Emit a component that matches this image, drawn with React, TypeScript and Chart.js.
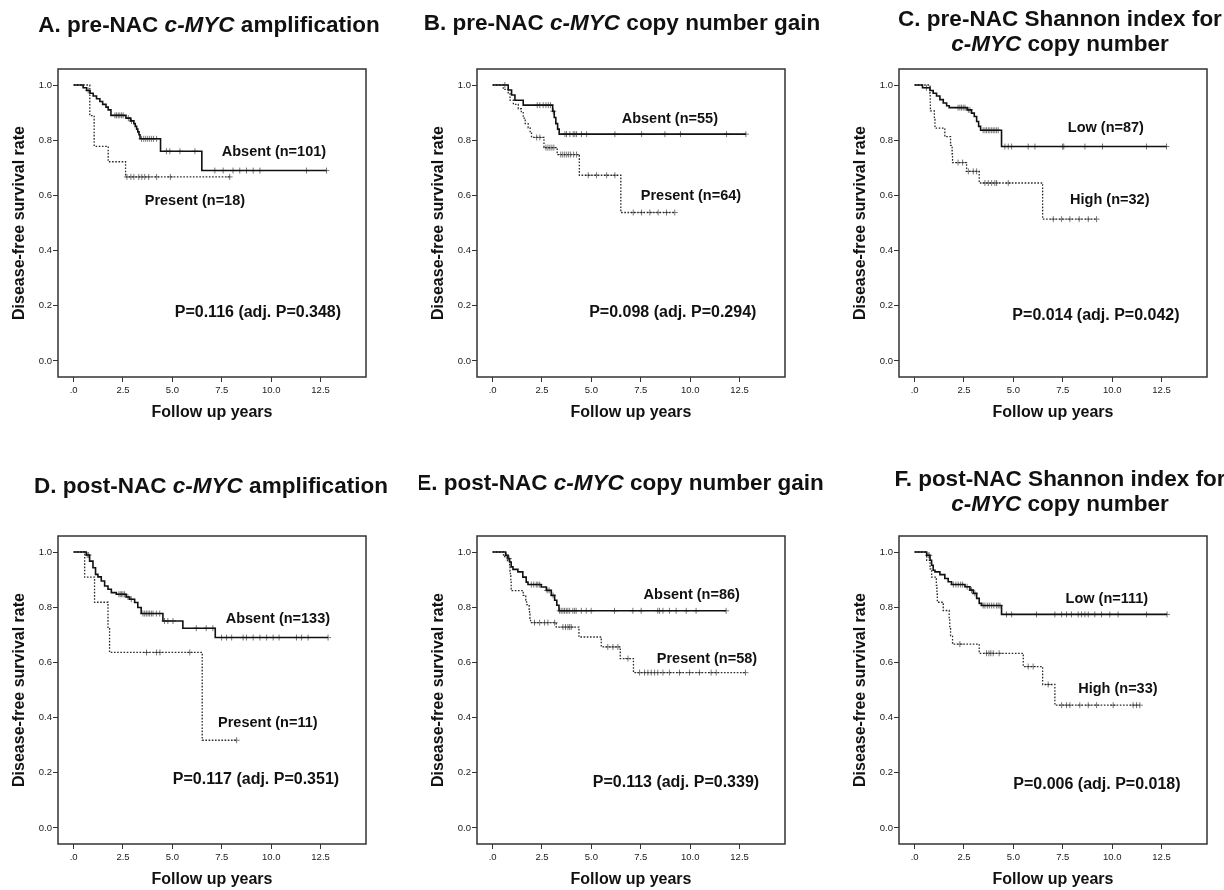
import React, { useEffect, useRef } from 'react';
import { Chart, registerables } from 'chart.js';

Chart.register(...registerables);

const FONT = '"Liberation Sans", Arial, Helvetica, sans-serif';

// axis ticks
const X_TICKS = [0, 2.5, 5, 7.5, 10, 12.5];
const X_TICK_LABELS = ['.0', '2.5', '5.0', '7.5', '10.0', '12.5'];
const Y_TICKS = [0, 0.2, 0.4, 0.6, 0.8, 1.0];
const Y_TICK_LABELS = ['0.0', '0.2', '0.4', '0.6', '0.8', '1.0'];

// ---- A. pre-NAC c-MYC amplification ----
const A_absT = [0.48, 0.66, 0.83, 0.99, 1.16, 1.33, 1.47, 1.64, 1.75, 1.89, 2.65, 2.88, 3.05, 3.12, 3.19, 3.25, 3.31, 3.36, 4.40, 6.49];
const A_absS = [0.99, 0.98, 0.97, 0.96, 0.95, 0.94, 0.93, 0.92, 0.91, 0.89, 0.88, 0.87, 0.86, 0.85, 0.84, 0.83, 0.82, 0.805, 0.76, 0.69];
const A_absC = [0.74, 2.09, 2.17, 2.26, 2.34, 2.43, 2.51, 2.77, 2.93, 3.44, 3.55, 3.65, 3.75, 3.85, 3.95, 4.05, 4.2, 4.7, 4.87, 5.38, 6.14, 7.15, 7.57, 8.07, 8.41, 8.75, 9.09, 9.43, 11.79, 12.8];
const A_preT = [0.82, 1.04, 1.75, 2.63];
const A_preS = [0.889, 0.778, 0.722, 0.667];
const A_preC = [2.7, 2.9, 3.05, 3.3, 3.45, 3.6, 3.8, 4.2, 4.9, 7.9];

// ---- B. pre-NAC c-MYC copy number gain ----
const B_absT = [0.79, 0.96, 1.13, 1.55, 3.04, 3.12, 3.20, 3.29, 3.37];
const B_absS = [0.982, 0.964, 0.945, 0.927, 0.905, 0.882, 0.86, 0.84, 0.822];
const B_absC = [0.62, 2.26, 2.39, 2.56, 2.70, 2.82, 2.93, 3.07, 3.66, 3.74, 3.91, 4.08, 4.16, 4.25, 4.50, 4.76, 6.19, 7.54, 8.72, 9.51, 11.84, 12.82];
const B_preT = [0.54, 0.79, 0.88, 1.05, 1.3, 1.45, 1.55, 1.65, 1.8, 1.9, 1.97, 2.6, 3.27, 4.39, 6.49];
const B_preS = [0.984, 0.969, 0.945, 0.93, 0.914, 0.9, 0.88, 0.86, 0.845, 0.828, 0.81, 0.773, 0.748, 0.673, 0.538];
const B_preC = [2.23, 2.39, 2.7, 2.8, 2.9, 3.0, 3.1, 3.45, 3.55, 3.65, 3.75, 3.85, 3.95, 4.1, 4.25, 4.84, 5.26, 5.77, 6.19, 7.12, 7.54, 7.96, 8.38, 8.80, 9.22];

// ---- C. pre-NAC Shannon index ----
const C_lowT = [0.40, 0.78, 0.94, 1.11, 1.28, 1.45, 1.62, 1.75, 2.66, 2.88, 3.02, 3.14, 3.24, 3.34, 4.40];
const C_lowS = [0.99, 0.98, 0.97, 0.96, 0.947, 0.935, 0.925, 0.918, 0.91, 0.898, 0.886, 0.868, 0.85, 0.836, 0.777];
const C_lowC = [0.6, 2.2, 2.29, 2.37, 2.46, 2.55, 2.72, 2.8, 3.47, 3.56, 3.64, 3.73, 3.81, 3.9, 3.98, 4.06, 4.15, 4.23, 4.57, 4.74, 4.91, 5.75, 6.09, 7.49, 7.55, 8.62, 9.51, 11.74, 12.75];
const C_highT = [0.78, 0.79, 0.80, 1.0, 1.03, 1.53, 1.82, 1.9, 1.92, 2.63, 3.27, 6.48];
const C_highS = [0.969, 0.938, 0.906, 0.875, 0.844, 0.813, 0.781, 0.75, 0.719, 0.687, 0.645, 0.514];
const C_highC = [2.2, 2.43, 2.72, 2.97, 3.14, 3.56, 3.73, 3.9, 4.06, 4.15, 4.74, 7.02, 7.44, 7.86, 8.33, 8.79, 9.21];

// ---- D. post-NAC c-MYC amplification ----
const D_absT = [0.64, 0.81, 0.98, 1.11, 1.23, 1.40, 1.57, 1.74, 1.91, 2.16, 2.66, 2.83, 3.09, 3.25, 3.42, 4.52, 5.53, 7.17];
const D_absS = [0.989, 0.967, 0.943, 0.919, 0.91, 0.895, 0.877, 0.865, 0.853, 0.847, 0.837, 0.829, 0.817, 0.799, 0.777, 0.75, 0.724, 0.69];
const D_absC = [0.69, 0.76, 2.29, 2.36, 2.43, 2.50, 2.58, 2.75, 2.92, 3.51, 3.6, 3.68, 3.77, 3.85, 3.94, 4.02, 4.19, 4.36, 4.6, 4.77, 5.03, 6.21, 6.71, 7.05, 7.49, 7.74, 8.0, 8.58, 8.75, 9.09, 9.43, 9.77, 10.1, 10.4, 11.28, 11.54, 11.87, 12.88];
const D_preT = [0.56, 1.06, 1.74, 1.82, 6.51];
const D_preS = [0.909, 0.818, 0.727, 0.636, 0.318];
const D_preC = [3.69, 4.2, 4.37, 5.88, 8.25];

// ---- E. post-NAC c-MYC copy number gain ----
const E_absT = [0.66, 0.78, 0.86, 0.94, 1.03, 1.28, 1.53, 1.70, 1.79, 2.46, 2.72, 2.97, 3.14, 3.25, 3.36];
const E_absS = [0.988, 0.976, 0.964, 0.946, 0.937, 0.928, 0.909, 0.891, 0.882, 0.873, 0.861, 0.843, 0.825, 0.807, 0.787];
const E_absC = [0.69, 0.83, 1.96, 2.08, 2.21, 2.29, 2.38, 2.76, 2.86, 3.06, 3.39, 3.47, 3.56, 3.64, 3.73, 3.81, 3.9, 4.06, 4.15, 4.23, 4.49, 4.74, 4.99, 6.17, 7.1, 7.52, 8.36, 8.45, 8.62, 8.95, 9.29, 9.8, 10.3, 11.82];
const E_preT = [0.55, 0.75, 0.86, 0.88, 0.9, 0.92, 0.94, 1.55, 1.68, 1.72, 1.85, 1.87, 1.89, 1.92, 3.22, 4.37, 5.5, 6.46, 7.13];
const E_preS = [0.983, 0.966, 0.948, 0.931, 0.914, 0.897, 0.86, 0.843, 0.826, 0.809, 0.792, 0.775, 0.76, 0.744, 0.728, 0.692, 0.656, 0.614, 0.563];
const E_preC = [2.12, 2.38, 2.63, 2.8, 3.14, 3.56, 3.69, 3.81, 3.9, 3.98, 5.83, 6.09, 6.34, 6.85, 7.44, 7.69, 7.86, 8.03, 8.2, 8.36, 8.62, 8.95, 9.46, 9.97, 10.47, 11.06, 11.32, 12.8];

// ---- F. post-NAC Shannon index ----
const F_lowT = [0.61, 0.78, 0.86, 0.94, 1.03, 1.28, 1.53, 1.70, 1.87, 2.55, 2.8, 2.97, 3.14, 3.27, 3.39, 4.40];
const F_lowS = [0.988, 0.97, 0.952, 0.934, 0.928, 0.918, 0.904, 0.892, 0.882, 0.874, 0.862, 0.85, 0.832, 0.814, 0.806, 0.774];
const F_lowC = [0.69, 0.74, 1.96, 2.09, 2.21, 2.33, 2.43, 2.66, 2.88, 3.05, 3.47, 3.56, 3.68, 3.78, 3.9, 4.01, 4.15, 4.23, 4.32, 4.65, 4.91, 6.17, 7.1, 7.44, 7.69, 7.94, 8.28, 8.45, 8.62, 8.79, 9.12, 9.46, 9.88, 10.3, 11.74, 12.78];
const F_highT = [0.61, 0.78, 0.86, 1.1, 1.13, 1.15, 1.45, 1.75, 1.78, 1.82, 1.92, 3.27, 5.5, 6.48, 7.1];
const F_highS = [0.97, 0.939, 0.909, 0.879, 0.848, 0.818, 0.788, 0.758, 0.727, 0.697, 0.666, 0.633, 0.585, 0.52, 0.445];
const F_highC = [2.29, 3.64, 3.76, 3.86, 3.98, 4.28, 5.75, 6.0, 6.76, 7.44, 7.69, 7.86, 8.36, 8.79, 9.21, 10.05, 11.06, 11.23, 11.4];

type Seg = { t: string; i?: boolean };
type Group = { label: string; T: number[]; S: number[]; C: number[]; dashed: boolean; lx: number; ly: number };
type Panel = {
  left: number; top: number; width: number;
  titleX: number; titleY: number[]; title: Seg[][];
  groups: Group[]; p: string; px: number; py: number;
};

const PANELS: Panel[] = [
  {
    left: 0, top: 0, width: 419, titleX: 209, titleY: [31.5],
    title: [[{ t: 'A. pre-NAC ' }, { t: 'c-MYC', i: true }, { t: ' amplification' }]],
    groups: [
      { label: 'Absent (n=101)', T: A_absT, S: A_absS, C: A_absC, dashed: false, lx: 10.14, ly: 0.757 },
      { label: 'Present (n=18)', T: A_preT, S: A_preS, C: A_preC, dashed: true, lx: 6.14, ly: 0.58 },
    ],
    p: 'P=0.116 (adj. P=0.348)', px: 9.33, py: 0.174,
  },
  {
    left: 419, top: 0, width: 422, titleX: 203, titleY: [29.5],
    title: [[{ t: 'B. pre-NAC ' }, { t: 'c-MYC', i: true }, { t: ' copy number gain' }]],
    groups: [
      { label: 'Absent (n=55)', T: B_absT, S: B_absS, C: B_absC, dashed: false, lx: 8.97, ly: 0.877 },
      { label: 'Present (n=64)', T: B_preT, S: B_preS, C: B_preC, dashed: true, lx: 10.04, ly: 0.598 },
    ],
    p: 'P=0.098 (adj. P=0.294)', px: 9.12, py: 0.174,
  },
  {
    left: 841, top: 0, width: 383, titleX: 219, titleY: [26, 50.5],
    title: [[{ t: 'C. pre-NAC Shannon index for' }], [{ t: 'c-MYC', i: true }, { t: ' copy number' }]],
    groups: [
      { label: 'Low (n=87)', T: C_lowT, S: C_lowS, C: C_lowC, dashed: false, lx: 9.68, ly: 0.844 },
      { label: 'High (n=32)', T: C_highT, S: C_highS, C: C_highC, dashed: true, lx: 9.88, ly: 0.583 },
    ],
    p: 'P=0.014 (adj. P=0.042)', px: 9.18, py: 0.163,
  },
  {
    left: 0, top: 467, width: 419, titleX: 211, titleY: [25.5],
    title: [[{ t: 'D. post-NAC ' }, { t: 'c-MYC', i: true }, { t: ' amplification' }]],
    groups: [
      { label: 'Absent (n=133)', T: D_absT, S: D_absS, C: D_absC, dashed: false, lx: 10.34, ly: 0.756 },
      { label: 'Present (n=11)', T: D_preT, S: D_preS, C: D_preC, dashed: true, lx: 9.83, ly: 0.379 },
    ],
    p: 'P=0.117 (adj. P=0.351)', px: 9.23, py: 0.176,
  },
  {
    left: 419, top: 467, width: 422, titleX: 201, titleY: [22.5],
    title: [[{ t: 'E. post-NAC ' }, { t: 'c-MYC', i: true }, { t: ' copy number gain' }]],
    groups: [
      { label: 'Absent (n=86)', T: E_absT, S: E_absS, C: E_absC, dashed: false, lx: 10.08, ly: 0.843 },
      { label: 'Present (n=58)', T: E_preT, S: E_preS, C: E_preC, dashed: true, lx: 10.85, ly: 0.611 },
    ],
    p: 'P=0.113 (adj. P=0.339)', px: 9.28, py: 0.166,
  },
  {
    left: 841, top: 467, width: 383, titleX: 219, titleY: [19, 43.5],
    title: [[{ t: 'F. post-NAC Shannon index for' }], [{ t: 'c-MYC', i: true }, { t: ' copy number' }]],
    groups: [
      { label: 'Low (n=111)', T: F_lowT, S: F_lowS, C: F_lowC, dashed: false, lx: 9.73, ly: 0.829 },
      { label: 'High (n=33)', T: F_highT, S: F_highS, C: F_highC, dashed: true, lx: 10.29, ly: 0.503 },
    ],
    p: 'P=0.006 (adj. P=0.018)', px: 9.23, py: 0.158,
  },
];

const CANVAS_H = 423;
const BOX_LEFT = 58;
const BOX_RIGHT = 366;
const BOX_TOP = 69;
const X_AXIS_H = 46;

function stepPoints(T: number[], S: number[], C: number[]) {
  const pts = [{ x: 0, y: 1 }];
  T.forEach((t, k) => pts.push({ x: t, y: S[k] }));
  const end = Math.max(T[T.length - 1], ...C);
  pts.push({ x: end, y: S[S.length - 1] });
  return pts;
}

function survAt(T: number[], S: number[], t: number) {
  let s = 1;
  for (let k = 0; k < T.length; k++) if (T[k] <= t) s = S[k];
  return s;
}

function PanelChart({ panel }: { panel: Panel }) {
  const ref = useRef<HTMLCanvasElement | null>(null);
  useEffect(() => {
    if (!ref.current) return;
    const datasets: any[] = [];
    panel.groups.forEach((g) => {
      datasets.push({
        type: 'line',
        data: stepPoints(g.T, g.S, g.C),
        stepped: 'before',
        borderColor: g.dashed ? '#2a2a2a' : '#111',
        borderWidth: g.dashed ? 1.3 : 1.6,
        borderDash: g.dashed ? [1.6, 1.6] : [],
        pointRadius: 0,
        fill: false,
      });
      datasets.push({
        type: 'scatter',
        data: g.C.map((c) => ({ x: c, y: survAt(g.T, g.S, c) })),
        pointStyle: 'cross',
        pointRadius: 3,
        borderColor: '#777',
        backgroundColor: '#777',
        borderWidth: 1,
        showLine: false,
      });
    });

    const overlay = {
      id: 'overlay',
      afterDraw(chart: any) {
        const { ctx, chartArea: ca, scales } = chart;
        ctx.save();
        ctx.strokeStyle = '#333';
        ctx.lineWidth = 1.5;
        ctx.strokeRect(ca.left, ca.top, ca.right - ca.left, ca.bottom - ca.top);

        ctx.fillStyle = '#111';
        ctx.textAlign = 'center';
        ctx.textBaseline = 'middle';
        ctx.font = `bold 14.5px ${FONT}`;
        panel.groups.forEach((g) => {
          ctx.fillText(g.label, scales.x.getPixelForValue(g.lx), scales.y.getPixelForValue(g.ly));
        });
        ctx.font = `bold 16px ${FONT}`;
        ctx.fillText(panel.p, scales.x.getPixelForValue(panel.px), scales.y.getPixelForValue(panel.py));

        // title with italic gene name
        ctx.textAlign = 'left';
        ctx.textBaseline = 'alphabetic';
        panel.title.forEach((line, li) => {
          const fonts = line.map((s) => `${s.i ? 'italic ' : ''}bold 22.5px ${FONT}`);
          let total = 0;
          line.forEach((s, k) => { ctx.font = fonts[k]; total += ctx.measureText(s.t).width; });
          let x = panel.titleX - total / 2;
          line.forEach((s, k) => {
            ctx.font = fonts[k];
            ctx.fillText(s.t, x, panel.titleY[li]);
            x += ctx.measureText(s.t).width;
          });
        });
        ctx.restore();
      },
    };

    const chart = new Chart(ref.current, {
      type: 'line',
      data: { datasets },
      options: {
        responsive: false,
        animation: false,
        events: [],
        layout: { padding: { top: BOX_TOP, right: panel.width - BOX_RIGHT, left: 0, bottom: 0 } },
        plugins: { legend: { display: false }, tooltip: { enabled: false }, title: { display: false } },
        scales: {
          x: {
            type: 'linear',
            min: -0.79,
            max: 14.8,
            afterBuildTicks: (scale: any) => { scale.ticks = X_TICKS.map((v) => ({ value: v })); },
            afterFit: (scale: any) => { scale.height = X_AXIS_H; },
            ticks: {
              autoSkip: false,
              maxRotation: 0,
              padding: 3,
              color: '#1a1a1a',
              font: { family: FONT, size: 9.5 },
              callback: (_v: any, i: number) => X_TICK_LABELS[i],
            },
            grid: { drawOnChartArea: false, drawTicks: true, tickLength: 5, color: '#333', lineWidth: 1 },
            border: { display: false },
            title: {
              display: true,
              text: 'Follow up years',
              color: '#111',
              font: { family: FONT, size: 16, weight: 'bold' },
              padding: { top: 0, bottom: 0.4 },
            },
          },
          y: {
            type: 'linear',
            min: -0.058,
            max: 1.058,
            afterBuildTicks: (scale: any) => { scale.ticks = Y_TICKS.map((v) => ({ value: v })); },
            afterFit: (scale: any) => { scale.width = BOX_LEFT; },
            ticks: {
              autoSkip: false,
              padding: 1,
              color: '#1a1a1a',
              font: { family: FONT, size: 9.5 },
              callback: (_v: any, i: number) => Y_TICK_LABELS[i],
            },
            grid: { drawOnChartArea: false, drawTicks: true, tickLength: 5, color: '#333', lineWidth: 1 },
            border: { display: false },
            title: {
              display: true,
              text: 'Disease-free survival rate',
              color: '#111',
              font: { family: FONT, size: 16, weight: 'bold' },
              padding: { top: 10, bottom: 0 },
            },
          },
        },
      } as any,
      plugins: [overlay],
    });
    return () => chart.destroy();
  }, [panel]);

  return (
    <canvas
      ref={ref}
      width={panel.width}
      height={CANVAS_H}
      style={{ position: 'absolute', left: panel.left, top: panel.top, width: panel.width, height: CANVAS_H }}
    />
  );
}

export default function App() {
  return (
    <div
      style={{
        position: 'absolute',
        left: 0,
        top: 0,
        width: 1224,
        height: 890,
        overflow: 'hidden',
        background: '#fff',
      }}
    >
      {PANELS.map((p, i) => (
        <PanelChart key={i} panel={p} />
      ))}
    </div>
  );
}
